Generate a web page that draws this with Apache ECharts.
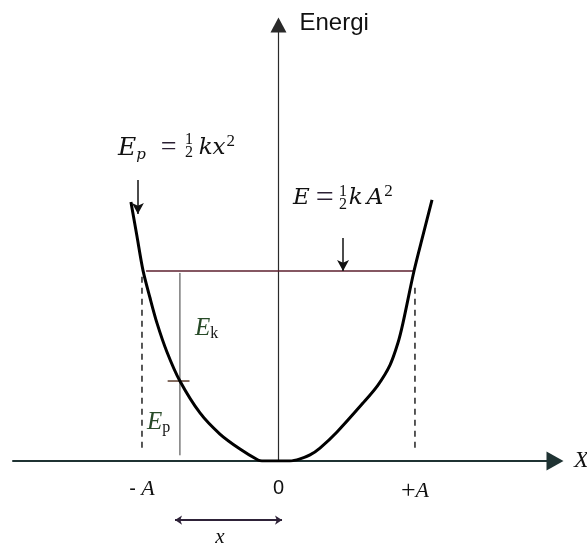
<!DOCTYPE html>
<html>
<head>
<meta charset="utf-8">
<script src="https://cdn.jsdelivr.net/npm/echarts@6/dist/echarts.min.js"></script>
<style>
html, body { margin: 0; padding: 0; background: #fff; }
#chart { width: 587px; height: 546px; }
</style>
</head>
<body>
<div id="chart"></div>
<script>
// potential energy curve (x in units of A, energy in units of E)
var curveX = [-1.081, -1.037, -0.993, -0.941, -0.890, -0.817, -0.722, -0.575, -0.429, -0.282, -0.150, -0.121,
              0.084, 0.158, 0.231, 0.304, 0.429, 0.619, 0.729, 0.817, 0.875, 0.912, 0.993, 1.059, 1.125];
var curveY = [1.363, 1.184, 1.005, 0.858, 0.726, 0.574, 0.421, 0.253, 0.142, 0.063, 0.005, 0,
              0, 0.011, 0.032, 0.068, 0.153, 0.305, 0.400, 0.505, 0.621, 0.726, 1.0, 1.189, 1.374];

var tickValues = [-1, 0, 1];
var tickNames = ['- A', '0', '+A'];

var totalE = 1;             // E = 1/2 kA^2
var eLineX = [-0.97, 0.993];
var posX = -0.722;          // displacement x where Ek / Ep split
var epAtX = 0.421;          // Ep at that x
var ampDash = [0.07, 0.99]; // dashed guides at -A and +A

var serif = 'Liberation Serif';
var dv = 'DejaVu Serif';
var ink = '#111111';

var curveData = curveX.map(function (x, i) { return [x, curveY[i]]; });

function seg(a, b, style, z) {
    return { type: 'line', data: [a, b], symbol: 'none', silent: true, clip: false,
        lineStyle: style, z: z || 2 };
}

function note(x, y, text, pos) {
    return { value: [x, y], label: { formatter: text, position: pos || 'right', distance: 0 } };
}

var rich = {
    e: { fontFamily: dv, fontStyle: 'italic', fontSize: 25, lineHeight: 30, color: ink },
    e2: { fontFamily: dv, fontStyle: 'italic', fontSize: 23, lineHeight: 30, color: ink },
    k2: { fontFamily: dv, fontStyle: 'italic', fontSize: 23, lineHeight: 30, color: ink, padding: [0, 4, 0, 0] },
    ek: { fontFamily: serif, fontStyle: 'italic', fontSize: 25, lineHeight: 28, color: '#274a27' },
    s: { fontFamily: serif, fontSize: 16, lineHeight: 12, verticalAlign: 'bottom', color: ink },
    si: { fontFamily: dv, fontStyle: 'italic', fontSize: 15, lineHeight: 12, verticalAlign: 'bottom', color: ink },
    eq: { fontFamily: serif, fontSize: 28, lineHeight: 30, color: '#2a1f33', padding: [0, 0, 0, 15] },
    eq2: { fontFamily: serif, fontSize: 32, lineHeight: 30, color: '#2a1f33', padding: [0, 0, 0, 6] },
    sup: { fontFamily: serif, fontSize: 17, lineHeight: 14, verticalAlign: 'top', color: ink, padding: [0, 0, 0, 1] },
    f: { fontFamily: serif, fontSize: 16, lineHeight: 13, color: ink, align: 'center' },
    x: { fontFamily: serif, fontStyle: 'italic', fontSize: 21, color: ink },
    n: { fontFamily: 'Liberation Sans', fontSize: 20, color: ink },
    a: { fontFamily: serif, fontStyle: 'italic', fontSize: 22, color: ink },
    pl: { fontFamily: serif, fontSize: 26, color: ink }
};

var notes = [
    note(-1.176, 1.647, '{e|E}{si|p}{eq|=}'),
    note(-0.656, 1.655, '{f|1}\n{f|2}', 'inside'),
    note(-0.585, 1.647, '{e2|kx}{sup|2}'),
    note(0.106, 1.382, '{e2|E}{eq2|=}'),
    note(0.472, 1.385, '{f|1}\n{f|2}', 'inside'),
    note(0.515, 1.382, '{k2|k}{e2|A}{sup|2}'),
    note(-0.612, 0.70, '{ek|E}{s|k}'),
    note(-0.963, 0.205, '{ek|E}{s|p}'),
    note(-0.429, -0.405, '{x|x}', 'inside')
];

var chart = echarts.init(document.getElementById('chart'));
chart.setOption({
    animation: false,
    backgroundColor: '#ffffff',
    grid: { left: 13, right: 32, top: 25, bottom: 85, outerBoundsMode: 'none' },
    xAxis: {
        type: 'value', min: -1.945, max: 2.026,
        name: 'X', nameLocation: 'end', nameGap: 19,
        nameTextStyle: { fontFamily: serif, fontStyle: 'italic', fontSize: 24, color: ink, padding: [0, 0, 8, 0] },
        axisLine: { lineStyle: { color: '#1f3333', width: 2 }, symbol: ['none', 'triangle'], symbolSize: [19, 17] },
        axisTick: { show: false },
        splitLine: { show: false },
        axisLabel: {
            customValues: tickValues, margin: 17,
            formatter: function (v) {
                var t = tickNames[tickValues.indexOf(v)];
                if (t === '0') return '{n|0}';
                if (t.charAt(0) === '-') return '{n|- }{a|A}';
                return '{pl|+}{a|A}';
            },
            rich: rich
        }
    },
    yAxis: {
        type: 'value', min: 0, max: 2.295,
        name: 'Energi', nameLocation: 'end', nameGap: 2,
        nameTextStyle: { fontFamily: 'Liberation Sans', fontSize: 24, color: ink, align: 'left', verticalAlign: 'middle', padding: [0, 0, 0, 21] },
        axisLine: { onZero: true, lineStyle: { color: '#2a2a2a', width: 1.2 }, symbol: ['none', 'triangle'], symbolSize: [16, 15] },
        axisTick: { show: false },
        axisLabel: { show: false },
        splitLine: { show: false }
    },
    series: [
        { type: 'line', data: curveData, smooth: 0.3, symbol: 'none', silent: true, z: 4,
          lineStyle: { color: '#000', width: 3 } },
        seg([eLineX[0], totalE], [eLineX[1], totalE], { color: '#5c1f2e', width: 1.5 }),
        seg([-1, ampDash[0]], [-1, ampDash[1]], { color: '#222', width: 1.5, type: [6, 5] }),
        seg([1, ampDash[0]], [1, ampDash[1] - 0.06], { color: '#222', width: 1.5, type: [6, 5] }),
        seg([posX, 0.03], [posX, 0.99], { color: '#3a3a3a', width: 1 }),
        seg([posX - 0.09, epAtX], [posX + 0.07, epAtX], { color: '#5a3b2b', width: 1.5 }),
        {
            type: 'line', data: [], silent: true,
            markLine: {
                silent: true, symbol: ['none', 'arrow'], symbolSize: [9, 11],
                label: { show: false },
                lineStyle: { color: '#111', width: 1.5, type: 'solid' },
                data: [
                    [{ coord: [-1.03, 1.479] }, { coord: [-1.03, 1.30] }],
                    [{ coord: [0.473, 1.174] }, { coord: [0.473, 1.0] }]
                ]
            }
        },
        {
            // displacement x, drawn below the axis
            type: 'lines', coordinateSystem: 'cartesian2d', clip: false, silent: true,
            symbol: ['arrow', 'arrow'], symbolSize: 7,
            lineStyle: { color: '#2e2238', width: 1.8, opacity: 1 },
            data: [{ coords: [[posX - 0.036, -0.311], [0.026, -0.311]] }]
        },
        {
            type: 'scatter', symbolSize: 0, clip: false, silent: true, z: 6,
            itemStyle: { opacity: 1 },
            label: { show: true, rich: rich, color: ink, opacity: 1 },
            data: notes
        }
    ]
});
</script>
</body>
</html>
